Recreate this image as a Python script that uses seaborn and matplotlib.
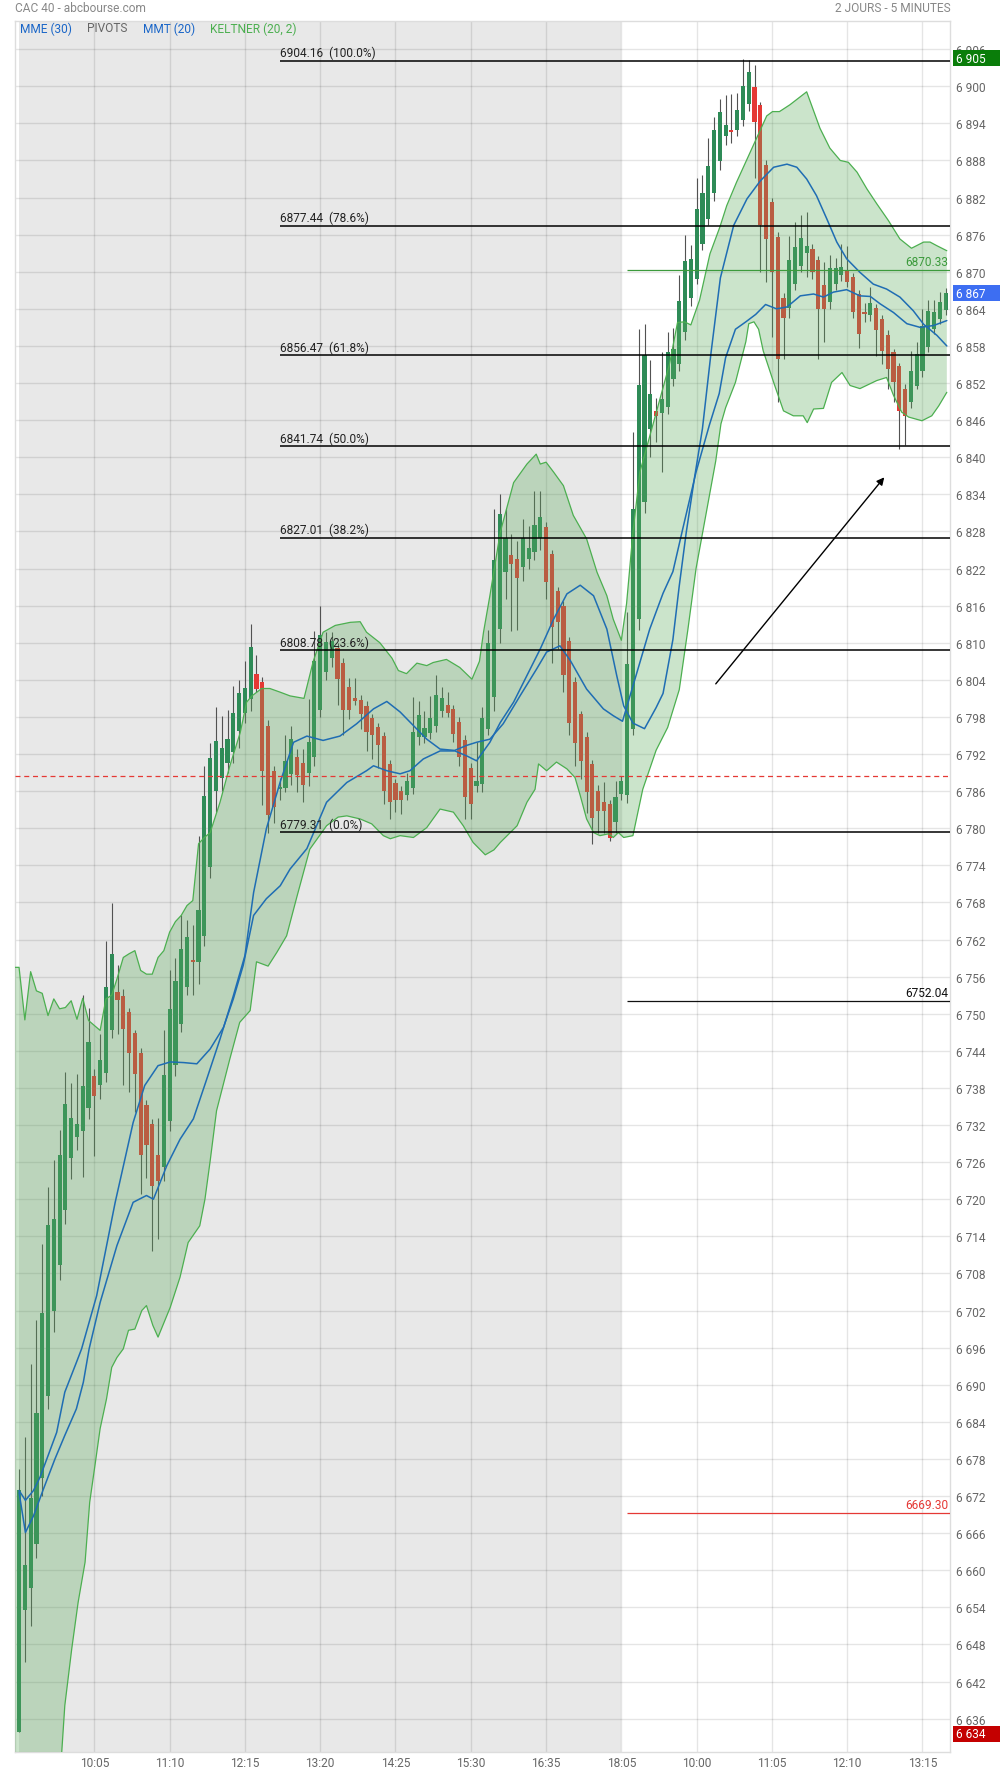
import numpy as np
import pandas as pd
import matplotlib
matplotlib.use("Agg")
import matplotlib.pyplot as plt
import matplotlib.transforms as mtransforms
from matplotlib.patches import Polygon, Rectangle
import seaborn as sns

### --- DATA (5 minute candles, 2 days) ---

opens = [6633.9, 6653.5, 6657.1, 6664.3, 6674.9, 6688.2, 6702.0, 6709.3, 6718.2, 6726.7,
         6730.0, 6731.1, 6734.7, 6740.0, 6738.4, 6740.4, 6747.3, 6753.5, 6752.8, 6750.2,
         6746.9, 6743.6, 6735.3, 6732.1, 6727.1, 6725.2, 6732.6, 6741.7, 6748.4, 6754.4,
         6758.6, 6758.3, 6762.5, 6773.8, 6786.0, 6788.2, 6790.5, 6792.3, 6795.7, 6798.7,
         6800.9, 6804.9, 6803.7, 6796.6, 6789.3, 6786.4, 6786.5, 6788.7, 6791.6, 6790.6,
         6788.9, 6791.5, 6799.2, 6805.2, 6807.5, 6809.2, 6806.7, 6802.8, 6801.1, 6800.8,
         6799.7, 6797.8, 6796.4, 6794.9, 6790.4, 6787.3, 6786.0, 6785.3, 6786.5, 6794.7,
         6794.7, 6795.4, 6796.5, 6799.0, 6800.0, 6799.3, 6797.2, 6794.3, 6789.7, 6786.8,
         6787.2, 6796.0, 6801.2, 6812.2, 6821.5, 6824.2, 6823.5, 6822.2, 6823.5, 6824.7,
         6827.0, 6828.7, 6824.3, 6818.3, 6816.0, 6810.3, 6803.6, 6798.5, 6794.7, 6790.4,
         6786.0, 6784.3, 6783.9, 6781.0, 6785.5, 6785.3, 6796.1, 6813.8, 6832.7, 6844.5,
         6847.4, 6847.1, 6848.2, 6852.6, 6855.0, 6860.2, 6865.8, 6868.9, 6874.5, 6878.6,
         6882.8, 6887.9, 6891.9, 6892.9, 6892.9, 6894.5, 6897.2, 6899.8, 6896.9, 6887.2,
         6881.2, 6875.6, 6865.7, 6864.1, 6868.0, 6871.0, 6873.1, 6873.7, 6871.9, 6867.8,
         6865.1, 6868.0, 6869.4, 6870.2, 6869.2, 6866.4, 6863.4, 6863.0, 6864.1, 6862.4,
         6859.8, 6857.0, 6854.7, 6851.1, 6848.9, 6851.6, 6854.0, 6857.8, 6860.7, 6862.3,
         6863.8]
highs = [6676.4, 6681.5, 6693.4, 6700.4, 6712.8, 6721.9, 6726.4, 6731.2, 6740.5, 6738.8,
         6740.2, 6753.0, 6751.0, 6741.1, 6746.7, 6761.8, 6767.9, 6757.9, 6754.0, 6751.0,
         6747.3, 6744.5, 6736.0, 6733.0, 6733.2, 6747.4, 6757.0, 6759.0, 6765.9, 6765.2,
         6764.4, 6778.7, 6790.0, 6793.8, 6799.6, 6798.2, 6799.1, 6803.0, 6804.0, 6807.1,
         6813.1, 6808.0, 6804.5, 6797.5, 6790.0, 6788.2, 6795.1, 6796.6, 6792.8, 6792.8,
         6800.9, 6811.9, 6815.9, 6811.8, 6811.7, 6810.0, 6807.5, 6804.3, 6804.3, 6801.5,
         6800.5, 6798.5, 6797.0, 6795.5, 6791.0, 6788.0, 6786.8, 6789.0, 6801.2, 6800.6,
         6799.0, 6801.4, 6804.8, 6802.8, 6802.0, 6800.0, 6798.0, 6795.0, 6790.5, 6793.9,
         6799.6, 6812.0, 6831.6, 6834.1, 6831.6, 6827.6, 6826.5, 6830.0, 6828.8, 6834.6,
         6834.6, 6829.5, 6825.0, 6819.0, 6816.8, 6811.0, 6804.5, 6799.0, 6795.5, 6791.0,
         6787.0, 6787.5, 6784.5, 6787.7, 6788.5, 6815.0, 6844.1, 6860.7, 6861.5, 6855.7,
         6849.6, 6857.0, 6860.2, 6860.9, 6869.4, 6875.9, 6874.3, 6885.1, 6885.6, 6891.7,
         6895.0, 6897.9, 6898.6, 6898.8, 6898.9, 6904.4, 6904.2, 6903.4, 6897.5, 6888.0,
         6882.0, 6876.5, 6866.5, 6875.8, 6878.0, 6879.1, 6879.6, 6874.5, 6872.5, 6871.5,
         6872.7, 6872.3, 6874.5, 6874.2, 6869.8, 6867.0, 6864.9, 6867.6, 6864.8, 6863.0,
         6860.5, 6857.5, 6855.3, 6851.8, 6857.2, 6858.7, 6864.0, 6865.5, 6865.5, 6866.7,
         6867.3]
lows = [6633.9, 6645.2, 6650.9, 6662.0, 6672.0, 6686.0, 6698.5, 6707.0, 6716.0, 6723.3,
        6728.0, 6723.6, 6733.0, 6727.0, 6736.2, 6739.0, 6746.0, 6746.7, 6738.4, 6737.4,
        6734.1, 6720.8, 6723.5, 6711.7, 6713.6, 6723.0, 6731.0, 6740.0, 6747.0, 6753.1,
        6753.1, 6754.8, 6761.0, 6772.0, 6782.6, 6786.0, 6789.0, 6790.5, 6793.0, 6797.0,
        6799.0, 6802.0, 6783.7, 6779.3, 6780.8, 6784.5, 6785.8, 6787.0, 6785.8, 6784.2,
        6786.9, 6790.0, 6798.0, 6804.0, 6806.0, 6800.0, 6795.0, 6797.7, 6800.0, 6796.1,
        6792.5, 6791.2, 6789.8, 6783.9, 6781.5, 6782.6, 6782.3, 6784.5, 6785.5, 6793.5,
        6793.8, 6794.5, 6795.5, 6798.0, 6798.0, 6794.0, 6790.0, 6781.5, 6781.5, 6785.8,
        6785.8, 6795.0, 6799.0, 6810.0, 6817.1, 6811.9, 6812.0, 6820.0, 6822.0, 6823.3,
        6825.0, 6817.0, 6806.8, 6809.0, 6802.0, 6795.0, 6790.0, 6788.0, 6782.5, 6777.5,
        6779.3, 6779.3, 6778.0, 6779.3, 6784.5, 6784.0, 6795.0, 6812.0, 6831.0, 6840.0,
        6842.4, 6837.6, 6847.0, 6851.5, 6854.0, 6859.0, 6864.5, 6868.0, 6873.5, 6877.5,
        6881.5, 6886.5, 6890.5, 6890.8, 6892.0, 6893.5, 6896.0, 6885.1, 6870.0, 6868.4,
        6859.4, 6849.0, 6855.9, 6862.5, 6867.0, 6870.0, 6869.1, 6868.8, 6855.9, 6858.6,
        6864.0, 6867.0, 6868.5, 6867.5, 6862.5, 6857.6, 6861.8, 6862.0, 6856.4, 6855.1,
        6851.0, 6849.0, 6841.3, 6841.9, 6848.0, 6851.0, 6853.0, 6857.0, 6860.0, 6861.5,
        6863.0]
closes = [6672.9, 6660.9, 6671.6, 6685.5, 6701.6, 6715.8, 6716.8, 6727.2, 6735.4, 6733.1,
          6732.1, 6738.3, 6745.5, 6736.7, 6742.5, 6754.3, 6759.7, 6752.2, 6747.6, 6743.6,
          6740.2, 6727.2, 6728.7, 6722.2, 6723.0, 6740.1, 6750.8, 6755.3, 6760.5, 6762.4,
          6758.4, 6766.8, 6785.2, 6791.3, 6794.1, 6793.0, 6794.5, 6798.7, 6801.8, 6802.6,
          6809.3, 6802.5, 6789.3, 6782.2, 6783.4, 6786.6, 6790.9, 6794.4, 6788.6, 6787.0,
          6793.9, 6807.0, 6811.2, 6810.1, 6810.2, 6804.2, 6799.1, 6799.2, 6800.6, 6798.5,
          6795.6, 6795.1, 6793.5, 6786.0, 6784.2, 6784.5, 6784.6, 6787.7, 6795.5, 6798.3,
          6796.2, 6797.8, 6801.5, 6801.0, 6798.7, 6795.3, 6791.5, 6785.0, 6783.9, 6787.6,
          6797.9, 6810.0, 6823.3, 6830.8, 6826.9, 6822.7, 6820.4, 6826.9, 6825.4, 6829.0,
          6830.3, 6819.9, 6812.5, 6813.3, 6804.8, 6797.0, 6793.8, 6790.8, 6785.9, 6781.6,
          6782.8, 6782.8, 6778.5, 6785.0, 6787.6, 6806.6, 6831.6, 6851.7, 6856.5, 6850.3,
          6846.6, 6849.4, 6857.1, 6857.5, 6865.3, 6871.7, 6872.0, 6880.2, 6882.8, 6887.1,
          6892.9, 6895.9, 6893.8, 6892.6, 6896.2, 6900.0, 6902.3, 6894.2, 6877.6, 6875.3,
          6869.9, 6855.9, 6862.5, 6871.9, 6874.0, 6875.4, 6874.2, 6869.9, 6864.0, 6864.0,
          6870.6, 6870.6, 6870.7, 6868.4, 6863.5, 6859.9, 6863.2, 6864.9, 6860.5, 6857.2,
          6854.2, 6852.2, 6847.5, 6846.7, 6854.0, 6856.7, 6861.3, 6863.7, 6863.5, 6865.1,
          6866.6]

# MME (30)
ema_x = [0, 1.1, 2.5, 3.6, 4.8, 6.5, 7.9, 9.9, 10.8, 13.4, 16.6, 19.7, 21.7, 24, 26.1, 28.4,
         30.7, 33, 35.3, 37, 38.7, 40.5, 42.7, 45.1, 46.8, 49.7, 53.1, 56.6, 60, 61.2, 63.5,
         65.8, 67.5, 69.8, 72.7, 75, 77.3, 79, 81.3, 83.6, 86.5, 89.4, 91.1, 93.4, 95.2, 98,
         100.9, 102.6, 104.2, 106, 108.9, 111.2, 112.9, 114.6, 116.9, 119.2, 120.9, 122,
         123.7, 125.5, 127.2, 128.9, 130.8, 132.6, 134.9, 137.2, 138.9, 140.6, 142.9, 145.2,
         147, 148.7, 151, 153.3, 155.6, 157.9, 160.2]
ema_y = [6672.9, 6671.3, 6672.9, 6675.0, 6678.0, 6682.3, 6688.8, 6693.6, 6695.8, 6704.4,
         6719.5, 6732.4, 6738.4, 6741.6, 6742.2, 6742.1, 6741.9, 6744.3, 6747.8, 6752.4,
         6757.8, 6765.9, 6768.6, 6770.7, 6773.4, 6776.7, 6784.2, 6787.4, 6789.3, 6790.1,
         6789.3, 6788.8, 6789.3, 6791.2, 6792.5, 6792.5, 6793.4, 6793.9, 6794.4, 6796.9,
         6801.4, 6805.8, 6808.5, 6809.5, 6807.1, 6802.5, 6799.3, 6798.2, 6797.3, 6803.0,
         6812.2, 6818.0, 6821.5, 6828.4, 6837.6, 6845.2, 6850.3, 6856.1, 6860.7, 6861.9,
         6863.1, 6864.7, 6864.0, 6864.3, 6866.1, 6866.4, 6865.9, 6866.7, 6867.1, 6866.1,
         6866.0, 6864.8, 6863.4, 6861.6, 6861.0, 6861.3, 6862.1]

# MMT (20)
tma_x = [0, 1.1, 2.5, 4.2, 6.2, 7.9, 9.9, 11.1, 12.1, 14, 16.9, 19.7, 22, 23.2, 25.5, 27.8,
         30.1, 32.4, 34.7, 37, 39, 40.5, 42.7, 45.1, 47.4, 49.7, 52.5, 55.4, 58.3, 61.2, 63.5,
         65.8, 68.1, 70.4, 72.7, 75, 77.3, 79, 81.3, 83.1, 85.4, 87.7, 90, 92.3, 94.6, 96.9,
         99.2, 101.5, 103.2, 104.4, 106, 108, 110, 111.2, 112.9, 114, 115.2, 116.6, 118,
         119.5, 121.1, 123.4, 125.7, 128, 130.3, 132.6, 134.3, 136, 137.7, 139.5, 141.2,
         142.9, 145.2, 147.5, 149.8, 152.1, 154.4, 156.2, 158.5, 160.2]
tma_y = [6672.6, 6666.1, 6668.8, 6673.1, 6678.0, 6681.8, 6686.1, 6690.4, 6695.8, 6703.3,
         6712.5, 6719.5, 6720.6, 6720.0, 6725.4, 6729.7, 6733.0, 6739.4, 6745.9, 6752.9,
         6759.4, 6769.6, 6779.9, 6787.5, 6793.9, 6794.9, 6794.2, 6794.9, 6796.9, 6799.3,
         6800.5, 6798.8, 6796.6, 6794.4, 6792.8, 6792.6, 6791.7, 6790.9, 6793.9, 6797.1,
         6800.4, 6804.7, 6809.0, 6813.8, 6817.9, 6819.3, 6817.6, 6812.2, 6804.7, 6799.8,
         6797.0, 6796.1, 6799.5, 6801.8, 6810.5, 6819.2, 6827.8, 6836.5, 6844.6, 6857.0,
         6869.0, 6877.5, 6881.8, 6884.7, 6886.9, 6887.4, 6886.9, 6885.0, 6882.3, 6878.5,
         6874.8, 6872.1, 6869.9, 6868.0, 6867.2, 6865.9, 6863.7, 6861.5, 6859.7, 6858.0]

# KELTNER (20, 2) upper / lower
ku_x = [-0.7] + list(range(0, 34)) + [
    34.7, 36.4, 38.2, 39.3, 40.2, 41.9, 43.3, 45.1, 46.8, 49.2, 50.8, 52.5, 54.6, 57.2, 58.9,
    60, 62.3, 64.4, 65.5, 66.9, 68.7, 70.4, 71.5, 73.8, 76.1, 78.2, 79.5, 80.2, 81.3, 83.1,
    85.4, 87.7, 89.3, 90, 91, 92.3, 94, 95.7, 98, 99.8, 101.5, 102.6, 104, 104.9, 106, 107.2,
    108.9, 110.6, 112.3, 113.7, 114.9, 116, 117.5, 119.3, 121, 122.2, 123.9, 125.7, 127.4,
    129.1, 130.1, 131.3, 133.1, 136, 138.3, 140, 141.8, 143.2, 144.7, 146.4, 148.1, 150.1,
    152.1, 154.1, 156.2, 157.3, 158.5, 160.2]
ku_y = [6757.5, 6757.5, 6749.0, 6756.8, 6753.7, 6753.3, 6749.7, 6752.4, 6750.8, 6751.0,
        6752.1, 6749.1, 6752.5, 6748.9, 6748.1, 6747.3, 6752.4, 6753.0, 6755.9, 6759.1,
        6759.7, 6760.2, 6757.0, 6756.4, 6756.4, 6759.1, 6760.2, 6763.2, 6764.9, 6765.9,
        6767.5, 6768.3, 6777.5, 6778.5, 6779.3, 6784.2, 6790.1, 6795.5, 6800.4, 6801.4,
        6802.6, 6802.6, 6802.0, 6801.4, 6801.0, 6807.0, 6811.7, 6812.8, 6813.3, 6813.4,
        6811.7, 6810.0, 6807.5, 6805.5, 6805.0, 6806.7, 6806.3, 6806.8, 6807.3, 6806.0,
        6804.1, 6807.0, 6811.7, 6817.6, 6827.9, 6835.9, 6838.9, 6840.5, 6838.9, 6839.2,
        6837.6, 6835.4, 6830.6, 6826.8, 6821.4, 6817.6, 6813.8, 6810.4, 6816.3, 6827.8,
        6837.6, 6843.4, 6849.2, 6855.0, 6861.8, 6861.9, 6861.4, 6865.4, 6872.9, 6877.2,
        6880.7, 6884.5, 6888.2, 6891.7, 6895.2, 6895.9, 6895.9, 6897.0, 6899.1, 6893.2,
        6890.0, 6888.0, 6887.7, 6886.1, 6883.4, 6881.0, 6878.3, 6875.3, 6873.8, 6874.8,
        6874.8, 6874.2, 6873.4]
kl_x = [-0.7, 4, 7.4, 7.9, 9.1, 10.2, 11.4, 12.2, 13.1, 14.0, 15.1, 16.0, 16.9, 18.0, 18.9,
        20.0, 21.2, 22.0, 23.1, 24.0, 26.1, 27.8, 29.2, 31.2, 32.1, 33.0, 34.1, 36.4, 38.1,
        39.9, 41.0, 43.0, 44.5, 46.2, 48, 50.2, 53.1, 55.1, 56.6, 58.9, 60.9, 62.9, 64.1,
        65.8, 68.1, 70.4, 72.7, 75.0, 76.7, 78.4, 80.5, 82, 83.1, 86.0, 87.7, 89.1, 89.7,
        91.1, 92.8, 94.6, 96.0, 96.9, 98.0, 99.2, 100.3, 101.8, 102.6, 103.5, 104.4, 106,
        107.7, 110.0, 112.0, 114.0, 115.5, 116.9, 118.6, 120.3, 121.2, 122.0, 123.7, 125.5,
        126.0, 126.9, 127.7, 128.5, 130.3, 132.0, 133.7, 135.4, 136.1, 137.2, 138.9, 140.3,
        142.1, 143.5, 145.2, 148.1, 149.8, 151.0, 152.4, 153.6, 155.9, 157.6, 158.8, 160.2]
kl_y = [6520, 6580, 6631.0, 6638.1, 6647.3, 6654.8, 6661.3, 6671.0, 6676.9, 6682.9,
        6687.7, 6692.8, 6694.4, 6695.8, 6698.8, 6699.0, 6702.0, 6702.8, 6699.6, 6697.7,
        6702.5, 6707.4, 6713.0, 6715.7, 6720.0, 6726.2, 6734.3, 6742.7, 6748.6, 6750.5,
        6758.4, 6757.7, 6759.9, 6762.6, 6769.0, 6776.6, 6780.4, 6781.8, 6782.0, 6781.5,
        6780.7, 6778.8, 6778.3, 6778.8, 6778.5, 6780.1, 6783.1, 6782.6, 6780.4, 6777.7,
        6775.7, 6776.5, 6777.7, 6780.4, 6784.2, 6786.3, 6790.4, 6789.3, 6790.7, 6789.6,
        6788.2, 6785.3, 6781.5, 6779.3, 6778.8, 6779.1, 6778.5, 6779.3, 6778.5, 6778.8,
        6786.3, 6792.6, 6796.3, 6802.4, 6812.2, 6822.0, 6830.7, 6839.4, 6845.4, 6848.0,
        6852.1, 6858.7, 6861.6, 6861.9, 6860.7, 6857.2, 6852.1, 6847.5, 6846.7, 6846.7,
        6845.6, 6847.8, 6847.9, 6852.1, 6853.7, 6851.6, 6851.1, 6852.4, 6852.9, 6850.0,
        6847.3, 6846.5, 6845.9, 6846.7, 6848.3, 6850.5]

# Fibonacci retracement levels
fib_vals = [6904.16, 6877.44, 6856.47, 6841.74, 6827.01, 6808.78, 6779.31]
fib_pcts = ['100.0%', '78.6%', '61.8%', '50.0%', '38.2%', '23.6%', '0.0%']

# pivots
pivot_vals = [6870.33, 6752.04, 6669.30]
pivot_colors = ['#3c9a3c', '#111111', '#e53935']
prev_close = 6788.4

# price tags on the right axis
tag_vals = [6905, 6867, 6634]
tag_colors = ['#0a7d0a', '#3d6ef2', '#c40000']

# time axis
tick_pos = [13, 26, 39, 52, 65, 78, 91, 104, 117, 130, 143, 156]
tick_labels = ['10:05', '11:10', '12:15', '13:20', '14:25', '15:30', '16:35',
               '18:05', '10:00', '11:05', '12:10', '13:15']

### --- STYLE ---
sns.set_theme(style="white")
plt.rcParams['font.family'] = ['Roboto', 'DejaVu Sans']

GREEN = '#2e8b57'
RED = '#e53935'
BLUE = '#1f6db3'
FS = 8.6
XMIN, XMAX = -0.7, 160.75
PT_PX = 6.183  # pixels per index point, for the tag boxes

fig = plt.figure(figsize=(10, 17.74), dpi=100)
ax = fig.add_axes([0.015, 21 / 1774, 0.935, (1753 - 21.7) / 1774])

# previous day shading
ax.axvspan(0, 104, color='#e8e8e8', zorder=0.2, lw=0)

### --- CANDLES ---
df = pd.DataFrame({'open': opens, 'high': highs, 'low': lows, 'close': closes})
df['x'] = np.arange(len(df))
up = df['close'] >= df['open']
ax.vlines(df['x'], df['low'], df['high'], color='#525252', lw=0.8, zorder=2)
body = (df['close'] - df['open']).abs().clip(lower=0.25)
ax.bar(df['x'], body, bottom=df[['open', 'close']].min(axis=1), width=0.72,
       color=np.where(up, GREEN, RED), linewidth=0, zorder=2.2)

### --- KELTNER ---
poly = np.c_[ku_x + kl_x[::-1], ku_y + kl_y[::-1]]
ax.add_patch(Polygon(poly, closed=True, facecolor=(0.37, 0.67, 0.37, 0.32),
                     edgecolor='none', zorder=3))
ax.plot(ku_x, ku_y, color='#4caf50', lw=0.9, zorder=3.5)
ax.plot(kl_x, kl_y, color='#4caf50', lw=0.9, zorder=3.5)

### --- MOVING AVERAGES ---
sns.lineplot(x=ema_x, y=ema_y, ax=ax, color=BLUE, lw=1.1, sort=False, estimator=None, zorder=4)
sns.lineplot(x=tma_x, y=tma_y, ax=ax, color=BLUE, lw=1.1, sort=False, estimator=None, zorder=4)

### --- LEVELS ---
ax.axhline(prev_close, color='#e53935', lw=0.9, ls=(0, (4, 3)), zorder=4.5)

fib_x0 = 45.06
for val, pct in zip(fib_vals, fib_pcts):
    ax.hlines(val, fib_x0, XMAX, color='black', lw=1.1, zorder=5)
    ax.annotate(f"{val:.2f}  ({pct})", (fib_x0, val), xytext=(0, 1.2),
                textcoords='offset points', ha='left', va='bottom',
                fontsize=FS, color='#222222', zorder=6)

for val, col in zip(pivot_vals, pivot_colors):
    ax.hlines(val, 104.9, XMAX, color=col, lw=0.9, zorder=5)
    ax.annotate(f"{val:.2f}", (160.4, val), xytext=(0, 1.2), textcoords='offset points',
                ha='right', va='bottom', fontsize=FS, color=col, zorder=6)

ax.annotate('', xy=(149.7, 6837.1), xytext=(120.0, 6803.0),
            arrowprops=dict(arrowstyle='-|>', color='black', lw=1.0, mutation_scale=11),
            zorder=6)

### --- AXES ---
ax.set_xlim(XMIN, XMAX)
ax.set_ylim(6630.6, 6910.6)
ax.set_yticks(np.arange(6636, 6907, 6))
ax.yaxis.set_major_formatter(plt.FuncFormatter(lambda v, _: f"{int(v):,}".replace(',', ' ')))
ax.yaxis.tick_right()
ax.set_xticks(tick_pos)
ax.set_xticklabels(tick_labels)
ax.tick_params(axis='both', length=0, labelsize=FS, labelcolor='#666666')
ax.tick_params(axis='y', pad=4)
ax.tick_params(axis='x', pad=3)
ax.grid(True, color='black', alpha=0.1, lw=1)
ax.set_axisbelow(True)
ax.set_xlabel('')
ax.set_ylabel('')
for sp in ax.spines.values():
    sp.set_color('#dddddd')
    sp.set_linewidth(1)

# coloured price tags, running to the right edge of the figure
trans = mtransforms.blended_transform_factory(ax.transAxes, ax.transData)
box_h = 16 / PT_PX
box_w = (1000 - 953) / 935
for val, col in zip(tag_vals, tag_colors):
    yc = val - 0.45
    ax.add_patch(Rectangle((1.0032, yc - box_h / 2), box_w, box_h, transform=trans,
                           facecolor=col, edgecolor='none', clip_on=False, zorder=9))
    ax.text(1.0064, yc, f"{val:,}".replace(',', ' '), transform=trans, ha='left', va='center',
            fontsize=FS, color='white', zorder=10, clip_on=False)

### --- HEADER / LEGEND ---
fig.text(0.015, 1 - 8.5 / 1774, 'CAC 40 - abcbourse.com', ha='left', va='center',
         fontsize=FS, color='#888888')
fig.text(0.951, 1 - 8.5 / 1774, '2 JOURS - 5 MINUTES', ha='right', va='center',
         fontsize=FS, color='#888888')
legend_items = [('MME (30)', '#1a66c8', 0.020), ('PIVOTS', '#666666', 0.087),
                ('MMT (20)', '#1a66c8', 0.143), ('KELTNER (20, 2)', '#4caf50', 0.210)]
for txt, col, xpos in legend_items:
    fig.text(xpos, 1 - 29 / 1774, txt, ha='left', va='center', fontsize=FS, color=col, zorder=10)

fig.savefig('out.png', dpi=100)
